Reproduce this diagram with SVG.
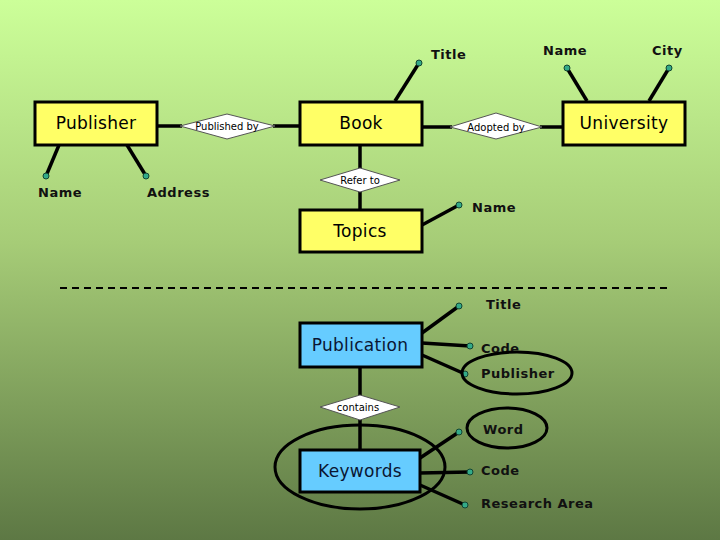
<svg xmlns="http://www.w3.org/2000/svg" width="720" height="540" viewBox="0 0 720 540">
<defs>
<linearGradient id="bg" x1="0" y1="0" x2="0" y2="1">
<stop offset="0" stop-color="#ccff99"/>
<stop offset="0.45" stop-color="#a6cc77"/>
<stop offset="1" stop-color="#5d7844"/>
</linearGradient>
<style>
.ent{fill:#ffff66;stroke:#000;stroke-width:3}
.ent2{fill:#66ccff;stroke:#000;stroke-width:3}
.rel{fill:#fff;stroke:#555;stroke-width:1}
.ln{stroke:#000;stroke-width:3.5;fill:none}
.ell{fill:none;stroke:#000;stroke-width:3}
.dot{fill:#33aa88;stroke:#114433;stroke-width:1}
.et{font-family:"DejaVu Sans",Verdana,sans-serif;font-size:17px;text-anchor:middle;fill:#000;letter-spacing:0.3px}
.et2{font-family:"DejaVu Sans",Verdana,sans-serif;font-size:17px;text-anchor:middle;fill:#0a1633;letter-spacing:0.3px}
.rt{font-family:"DejaVu Sans",Verdana,sans-serif;font-size:10px;text-anchor:middle;fill:#000}
.at{font-family:"DejaVu Sans",Verdana,sans-serif;font-size:13px;font-weight:bold;fill:#111;letter-spacing:0.5px}
</style>
</defs>
<rect x="0" y="0" width="720" height="540" fill="url(#bg)"/>
<g id="connectors">
<line class="ln" x1="157" y1="126" x2="182" y2="126"/>
<line class="ln" x1="273" y1="126" x2="300" y2="126"/>
<line class="ln" x1="422" y1="127" x2="452" y2="127"/>
<line class="ln" x1="540" y1="127" x2="563" y2="127"/>
<line class="ln" x1="360" y1="145" x2="360" y2="168"/>
<line class="ln" x1="360" y1="192" x2="360" y2="210"/>
<line class="ln" x1="59" y1="145" x2="46" y2="176"/>
<line class="ln" x1="127" y1="145" x2="146" y2="176"/>
<line class="ln" x1="395" y1="101" x2="419" y2="63"/>
<line class="ln" x1="587" y1="101" x2="567" y2="68"/>
<line class="ln" x1="649" y1="101" x2="669" y2="68"/>
<line class="ln" x1="422" y1="225" x2="459" y2="205"/>
<line class="ln" x1="422" y1="333" x2="459" y2="306"/>
<line class="ln" x1="422" y1="343" x2="470" y2="346"/>
<line class="ln" x1="422" y1="355" x2="465" y2="374"/>
<line class="ln" x1="360" y1="367" x2="360" y2="395"/>
<line class="ln" x1="360" y1="420" x2="360" y2="450"/>
<line class="ln" x1="420" y1="458" x2="459" y2="432"/>
<line class="ln" x1="420" y1="473" x2="470" y2="472"/>
<line class="ln" x1="420" y1="485" x2="465" y2="505"/>
<line x1="60" y1="288" x2="672" y2="288" stroke="#000" stroke-width="2" stroke-dasharray="7 5"/>
</g>
<g id="dots">
<circle class="dot" cx="46" cy="176" r="3"/>
<circle class="dot" cx="146" cy="176" r="3"/>
<circle class="dot" cx="419" cy="63" r="3"/>
<circle class="dot" cx="567" cy="68" r="3"/>
<circle class="dot" cx="669" cy="68" r="3"/>
<circle class="dot" cx="459" cy="205" r="3"/>
<circle class="dot" cx="459" cy="306" r="3"/>
<circle class="dot" cx="470" cy="346" r="3"/>
<circle class="dot" cx="465" cy="374" r="3"/>
<circle class="dot" cx="459" cy="432" r="3"/>
<circle class="dot" cx="470" cy="472" r="3"/>
<circle class="dot" cx="465" cy="505" r="3"/>
</g>
<g id="publisher">
<rect class="ent" x="35" y="102" width="122" height="43"/>
<text class="et" x="96" y="129">Publisher</text>
</g>
<g id="published-by">
<polygon class="rel" points="180,126 227,114 275,126 227,139"/>
<text class="rt" x="227" y="130">Published by</text>
</g>
<g id="book">
<rect class="ent" x="300" y="102" width="122" height="43"/>
<text class="et" x="361" y="129">Book</text>
</g>
<g id="adopted-by">
<polygon class="rel" points="450,127 496,113 542,127 496,139"/>
<text class="rt" x="496" y="131">Adopted by</text>
</g>
<g id="university">
<rect class="ent" x="563" y="102" width="122" height="43"/>
<text class="et" x="624" y="129">University</text>
</g>
<g id="refer-to">
<polygon class="rel" points="320,180 360,168 400,180 360,192"/>
<text class="rt" x="360" y="184">Refer to</text>
</g>
<g id="topics">
<rect class="ent" x="300" y="210" width="122" height="42"/>
<text class="et" x="360" y="237">Topics</text>
</g>
<g id="attrs-top">
<text class="at" x="38" y="197">Name</text>
<text class="at" x="147" y="197">Address</text>
<text class="at" x="431" y="59">Title</text>
<text class="at" x="543" y="55">Name</text>
<text class="at" x="652" y="55">City</text>
<text class="at" x="472" y="212">Name</text>
</g>
<g id="publication">
<rect class="ent2" x="300" y="323" width="122" height="44"/>
<text class="et2" x="360" y="351">Publication</text>
</g>
<g id="contains">
<polygon class="rel" points="320,407 360,395 400,407 360,420"/>
<text class="rt" x="358" y="411">contains</text>
</g>
<g id="keywords">
<rect class="ent2" x="300" y="450" width="120" height="42"/>
<text class="et2" x="360" y="477">Keywords</text>
</g>
<g id="attrs-bottom">
<text class="at" x="486" y="309">Title</text>
<text class="at" x="481" y="353">Code</text>
<text class="at" x="481" y="378">Publisher</text>
<text class="at" x="483" y="434">Word</text>
<text class="at" x="481" y="475">Code</text>
<text class="at" x="481" y="508">Research Area</text>
</g>
<g id="ellipses">
<ellipse class="ell" cx="517" cy="373" rx="55" ry="21"/>
<ellipse class="ell" cx="507" cy="428" rx="40" ry="20"/>
<ellipse class="ell" cx="360" cy="467" rx="85" ry="42"/>
</g>
</svg>
